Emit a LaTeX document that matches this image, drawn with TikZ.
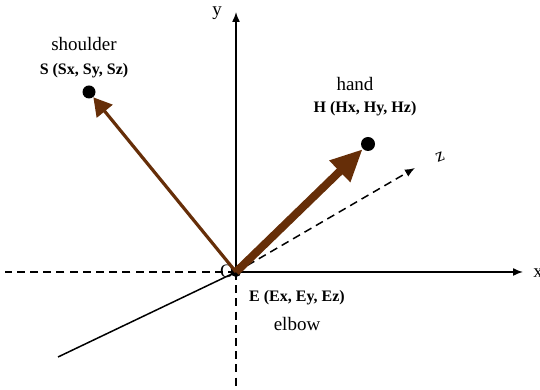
\documentclass[tikz,border=0pt]{standalone}
\usepackage{fontspec}
\setmainfont{Liberation Serif}
\usetikzlibrary{arrows.meta}

\definecolor{armbrown}{RGB}{102,46,8}

\begin{document}
\begin{tikzpicture}[
  x=0.5pt, y=0.5pt,
  font=\fontsize{9.5}{11}\selectfont,
  >={Latex[length=5pt,width=4pt]},
  axis/.style={line width=0.75pt},
  negaxis/.style={line width=0.75pt, dash pattern=on 4pt off 2.6pt},
  dot/.style={circle, fill=black, inner sep=0pt, minimum size=6.5pt},
  vec/.style={draw=armbrown, line width=1.6pt},
  lbl/.style={align=center, inner sep=0pt},
  coordlbl/.style={lbl, font=\fontsize{8}{10}\selectfont\bfseries}
]
  \useasboundingbox (0,0) rectangle (540,390);

  % axes
  \node[dot, minimum size=5pt] (E) at (236,118) {};
  \coordinate (xend) at (523,118);
  \coordinate (yend) at (236,378);
  \coordinate (zend) at (415,222);
  \coordinate (xneg) at (5,118);
  \coordinate (yneg) at (236,0);
  \coordinate (zneg) at (58,33);

  \draw[axis, ->] (E.center) -- (xend);
  \draw[axis, ->] (E.center) -- (yend);
  \draw[negaxis, ->] (E.center) -- (zend);
  \draw[negaxis] (E.center) -- (xneg);
  \draw[negaxis] (E.center) -- (yneg);
  \draw[axis] (E.center) -- (zneg);

  \node[lbl, anchor=west] (xlbl) at (533,117) {x};
  \node[lbl] (ylbl) at (217,377) {y};
  \node[lbl, rotate=20] (zlbl) at (440,233) {z};
  \node[lbl] (olbl) at (227,119) {O};

  % shoulder and hand
  \node[dot] (S) at (89,298) {};
  \node[dot, minimum size=7pt] (H) at (368,246) {};

  \draw[vec, -{Triangle[length=9pt, width=10pt]}] (E.center) -- (S);
  \draw[vec, line width=4pt, -{Triangle[length=16pt, width=14pt]}] (E.center) -- (H);

  \node[lbl] (shoulder) at (84,346) {shoulder};
  \node[coordlbl] (Slbl) at (84,319) {S (Sx, Sy, Sz)};
  \node[lbl] (hand) at (355,306) {hand};
  \node[coordlbl] (Hlbl) at (365,281) {H (Hx, Hy, Hz)};
  \node[coordlbl] (Elbl) at (297,92) {E (Ex, Ey, Ez)};
  \node[lbl] (elbow) at (297,66) {elbow};
\end{tikzpicture}
\end{document}
